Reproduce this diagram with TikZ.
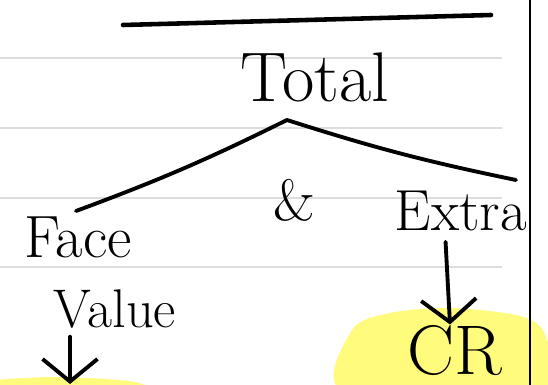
\documentclass[tikz,border=0pt]{standalone}
\usetikzlibrary{arrows.meta}
\definecolor{hilite}{RGB}{255,252,125}
\definecolor{ruling}{RGB}{221,221,221}
\tikzset{
  pen/.style={line width=2.2pt, line cap=round, line join=round},
  word/.style={inner sep=0pt},
  arr/.style={pen, -{Straight Barb[length=0.45cm, width=1.1cm]}},
}
\begin{document}
\begin{tikzpicture}[x=0.02cm, y=-0.02cm]
  \useasboundingbox (0,0) rectangle (548,385);
  \clip (0,0) rectangle (548,385);
  \foreach \y in {58,128,198,267}
    \draw[ruling, line width=1pt] (0,\y) -- (502,\y);
  \fill[hilite] plot[smooth cycle] coordinates {(352,330) (390,313) (450,308) (520,316) (545,335) (545,392) (345,392)};
  \fill[hilite] plot[smooth cycle] coordinates {(-10,381) (60,377) (135,382) (140,392) (-10,392)};
  \draw[pen, line width=2.6pt] (123,25) -- (491,15);
  \draw[line width=1.6pt] (530,0) -- (530,385);

  \node[word, font=\fontsize{40}{40}\selectfont] (total) at (315,77) {Total};
  \node[word, font=\fontsize{34}{34}\selectfont] (face) at (78,237) {Face};
  \node[word, font=\fontsize{31}{31}\selectfont] (value) at (115,309) {Value};
  \node[word, font=\fontsize{33}{33}\selectfont] (amp) at (294,200) {\&};
  \node[word, font=\fontsize{33}{33}\selectfont] (extra) at (461,211) {Extra};
  \node[word, font=\fontsize{40}{40}\selectfont] (cr) at (455,350) {CR};

  \coordinate (apex) at (287,120);
  \coordinate (lend) at (76,211);
  \coordinate (rend) at (516,180);
  \coordinate (vend) at (70,384);
  \draw[pen] (apex) to[bend left=3] (lend);
  \draw[pen] (apex) to[bend right=3] (rend);
  \draw[arr] (value.south -| vend) ++(0,8) -- (vend);
  \draw[arr, shorten <=6pt] ([xshift=-0.32cm]extra.south) -- ([xshift=-0.1cm]cr.north);
\end{tikzpicture}
\end{document}
